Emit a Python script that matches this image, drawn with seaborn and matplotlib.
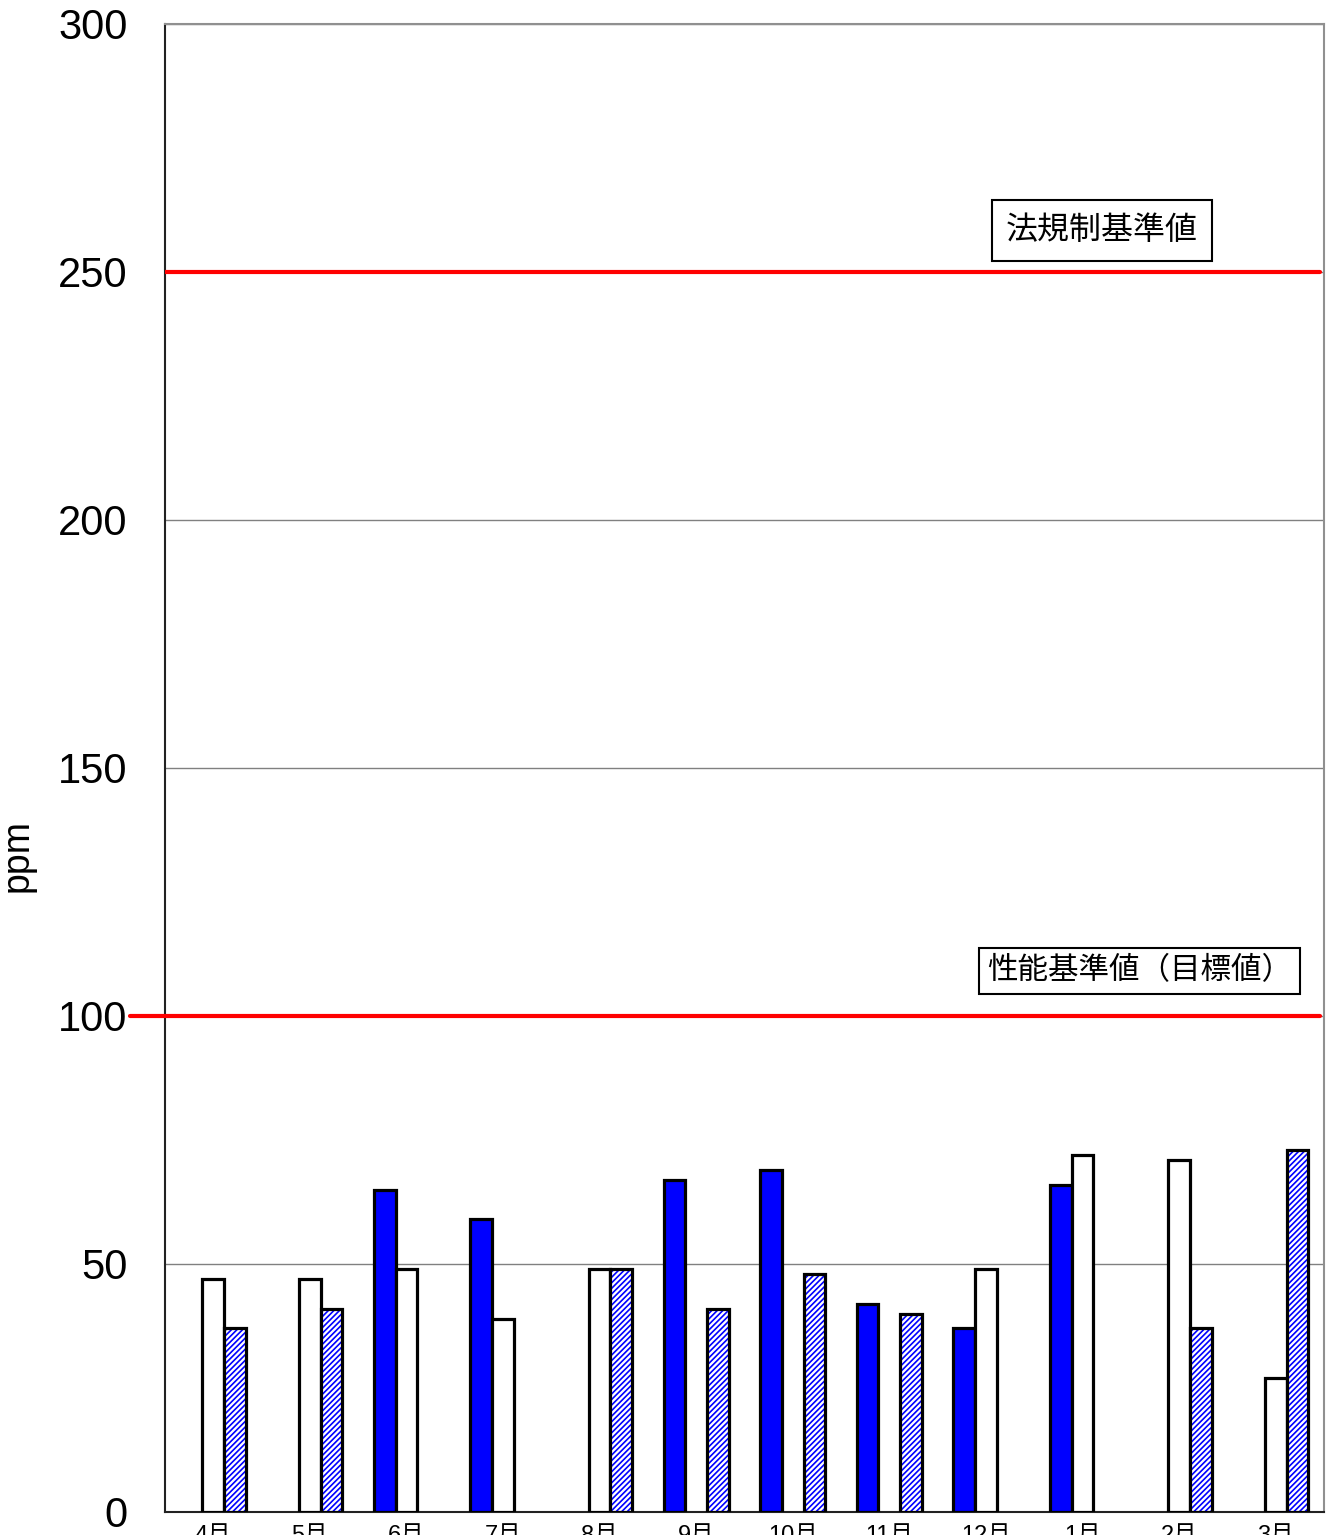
import numpy as np
import pandas as pd
import matplotlib
matplotlib.use('Agg')
import matplotlib.pyplot as plt
import matplotlib.transforms as mtransforms
from matplotlib.patches import Rectangle
import seaborn as sns

# data (ppm), NaN = no bar that month
months = ['4月', '5月', '6月', '7月', '8月', '9月', '10月', '11月', '12月', '1月', '2月', '3月']
series_names = ['系列1', '系列2', '系列3']
vals_blue = [np.nan, np.nan, 65, 59, np.nan, 67, 69, 42, 37, 66, np.nan, np.nan]
vals_white = [47, 47, 49, 39, 49, np.nan, np.nan, np.nan, 49, 72, 71, 27]
vals_hatch = [37, 41, np.nan, np.nan, 49, 41, 48, 40, np.nan, np.nan, 37, 73]
limit_values = [250, 100]
limit_labels = ['法規制基準値', '性能基準値（目標値）']
y_ticks = [0, 50, 100, 150, 200, 250, 300]

df = pd.DataFrame({
    '月': months * 3,
    '系列': np.repeat(series_names, len(months)),
    'ppm': vals_blue + vals_white + vals_hatch,
})

sns.set_theme(style='white')
plt.rcParams['font.family'] = ['Liberation Sans', 'Noto Sans CJK JP', 'DejaVu Sans']
plt.rcParams['hatch.linewidth'] = 1.2
plt.rcParams['text.color'] = 'black'
plt.rcParams['axes.labelcolor'] = 'black'
plt.rcParams['xtick.color'] = 'black'
plt.rcParams['ytick.color'] = 'black'

fig = plt.figure(figsize=(13.33, 15.35), dpi=100)
ax = fig.add_axes([0.1238, 0.015, 0.8694, 0.9694])

palette = {'系列1': '#0000FF', '系列2': 'white', '系列3': 'white'}
sns.barplot(data=df, x='月', y='ppm', hue='系列', order=months, hue_order=series_names,
            palette=palette, saturation=1, width=0.675, edgecolor='black', linewidth=2.3,
            legend=False, ax=ax, zorder=3)

# hatched series: blue diagonal hatch + black outline
for p in ax.containers[2]:
    if not np.isfinite(p.get_height()):
        continue
    p.set_hatch('//////')
    p.set_edgecolor('#0000FF')
    p.set_linewidth(0)
    ax.add_patch(Rectangle(p.get_xy(), p.get_width(), p.get_height(), fill=False,
                           edgecolor='black', linewidth=2.3, zorder=4))

ax.set_xlim(-0.5, len(months) - 0.5)
ax.set_ylim(0, 300)
ax.set_yticks(y_ticks)
ax.yaxis.grid(True, color='#808080', linewidth=1.0)
ax.set_axisbelow(True)

# limit lines
trans = mtransforms.blended_transform_factory(ax.transAxes, ax.transData)
ax.plot([0, 0.9965], [limit_values[0]] * 2, color='red', lw=3, transform=trans, zorder=5)
ax.plot([-0.030, 0.9965], [limit_values[1]] * 2, color='red', lw=3, transform=trans,
        zorder=5, clip_on=False)

box = dict(boxstyle='square,pad=0.45', facecolor='white', edgecolor='black', linewidth=1.5)
ax.text(0.8085, 258.4, limit_labels[0], transform=trans, ha='center', va='center',
        fontsize=23, family=['Noto Sans CJK JP'], bbox=box, zorder=6)
box2 = dict(boxstyle='square,pad=0.25', facecolor='white', edgecolor='black', linewidth=1.5)
ax.text(0.8408, 109.1, limit_labels[1], transform=trans, ha='center', va='center',
        fontsize=22, family=['Noto Sans CJK JP'], bbox=box2, zorder=6)

# axes styling
ax.tick_params(axis='y', length=0, pad=27, labelsize=30)
ax.tick_params(axis='x', which='major', length=0, pad=9, labelsize=17)
ax.set_xticks(np.arange(-0.5, len(months), 1.0), minor=True)
ax.tick_params(axis='x', which='minor', length=30, width=1, color='black', direction='out')
ax.set_xlabel('')
ax.set_ylabel('ppm', fontsize=27, labelpad=0)
ax.yaxis.set_label_coords(-0.112, 0.4415)

for side in ['top', 'right']:
    ax.spines[side].set_color('#909090')
    ax.spines[side].set_linewidth(1.5)
for side in ['left', 'bottom']:
    ax.spines[side].set_color('#222222')
    ax.spines[side].set_linewidth(1.5)

fig.savefig('out.png', dpi=100)
